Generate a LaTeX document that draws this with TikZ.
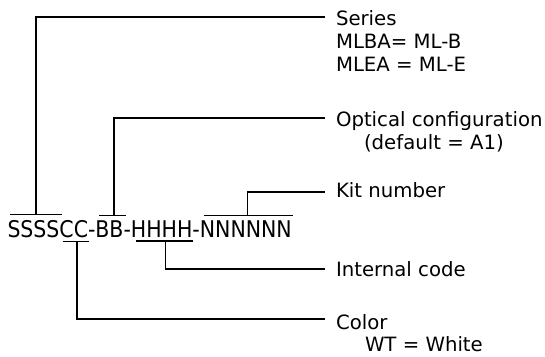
\documentclass[tikz,border=0pt]{standalone}
\usepackage{fontspec}
\setmainfont{DejaVu Sans}
\newfontfamily\codefont[FakeStretch=0.89]{DejaVu Sans}
\begin{document}
\begin{tikzpicture}[x=1pt,y=-1pt,
  code/.style={inner sep=0pt, outer sep=0pt, anchor=base west, font=\codefont\fontsize{23pt}{27pt}\selectfont},
  lab/.style={inner sep=0pt, outer sep=0pt, anchor=base west, font=\fontsize{19.7pt}{23pt}\selectfont},
  wire/.style={line width=1.1pt, black}]
\useasboundingbox (0,0) rectangle (545,356);
% code string
\node[code] (s) at (7.5,237) {SSSS};
\node[code] (c) at (s.base east) {CC};
\node[code] (d1) at (c.base east) {-};
\node[code] (b) at (d1.base east) {BB};
\node[code] (d2) at (b.base east) {-};
\node[code] (h) at (d2.base east) {HHHH};
\node[code] (d3) at (h.base east) {-};
\node[code] (n) at (d3.base east) {NNNNNN};
% over/underlines
\draw[wire] ([xshift=2.5pt,yshift=5pt]s.north west) -- ([xshift=2.5pt,yshift=5pt]s.north east);
\draw[wire] ([xshift=4pt,yshift=5pt]b.north west) -- ([xshift=2pt,yshift=5pt]b.north east);
\draw[wire] ([xshift=4pt,yshift=5pt]n.north west) -- ([xshift=1pt,yshift=5pt]n.north east);
\draw[wire] ([xshift=3.5pt,yshift=-4pt]c.south west) -- ([xshift=1pt,yshift=-4pt]c.south east);
\draw[wire] ([xshift=5pt,yshift=-4pt]h.south west) -- ([xshift=0.5pt,yshift=-4pt]h.south east);
\coordinate (sm) at ([xshift=2.5pt,yshift=5pt]s.north);
\coordinate (bm) at ([xshift=4.5pt,yshift=5pt]b.north);
\coordinate (nm) at ([xshift=2pt,yshift=5pt]n.north);
\coordinate (cm) at ([xshift=3.2pt,yshift=-4pt]c.south);
\coordinate (hm) at ([xshift=4.2pt,yshift=-4pt]h.south);
% labels
\node[lab] (series) at (336,25) {Series};
\node[lab] (series1) at (336,48) {MLBA= ML-B};
\node[lab] (series2) at (336,71) {MLEA = ML-E};
\node[lab] (opt) at (336,126) {Optical configuration};
\node[lab] (opt1) at (364,149) {(default = A1)};
\node[lab] (kit) at (336,197) {Kit number};
\node[lab] (int) at (336,276) {Internal code};
\node[lab] (col) at (336,329) {Color};
\node[lab] (col1) at (365,351) {WT = White};
% connector ends
\coordinate (seriesE) at ([xshift=-11pt,yshift=8pt]series.base west);
\coordinate (optE) at ([xshift=-11pt,yshift=8pt]opt.base west);
\coordinate (kitE) at ([xshift=-11pt,yshift=5pt]kit.base west);
\coordinate (intE) at ([xshift=-11pt,yshift=7pt]int.base west);
\coordinate (colE) at ([xshift=-11pt,yshift=10pt]col.base west);
% connectors
\draw[wire] (sm) |- (seriesE);
\draw[wire] (bm) |- (optE);
\draw[wire] (nm) |- (kitE);
\draw[wire] (hm) |- (intE);
\draw[wire] (cm) |- (colE);
\end{tikzpicture}
\end{document}
